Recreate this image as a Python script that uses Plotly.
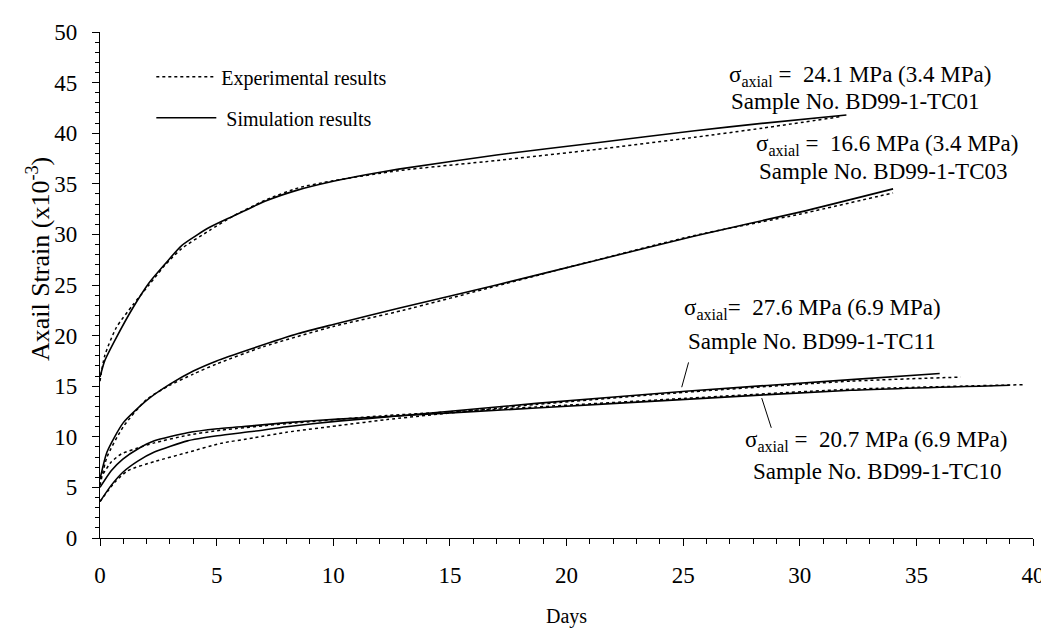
import plotly.graph_objects as go

# ---- data (days, axial strain x1e-3) ----
tc01_sim_x = [0, 0.2, 0.7, 1.4, 2.1, 2.8, 3.5, 4.7, 5.7, 7.1, 8.5, 10, 11.4, 12.8, 17, 21.3, 25.5, 28.5, 32]
tc01_sim_y = [15.9, 17.5, 19.8, 22.7, 25.2, 27.1, 28.9, 30.7, 31.8, 33.3, 34.4, 35.25, 35.9, 36.45, 37.85, 39.05, 40.25, 41.0, 41.8]
tc01_exp_x = [0, 0.2, 0.7, 1.4, 2.1, 2.8, 3.5, 4.7, 5.7, 7.1, 8.5, 10, 12.8, 17, 21.3, 25.5, 28.4, 31.8]
tc01_exp_y = [15.5, 18.0, 20.8, 23.0, 25.0, 27.0, 28.6, 30.4, 31.8, 33.4, 34.6, 35.3, 36.3, 37.3, 38.4, 39.6, 40.5, 41.65]

tc03_sim_x = [0, 0.3, 1.0, 2.0, 3.0, 4.0, 5.0, 6.5, 8.5, 10, 12.8, 17, 21.3, 25.5, 30, 34]
tc03_sim_y = [5.8, 8.5, 11.4, 13.6, 15.2, 16.5, 17.5, 18.7, 20.2, 21.1, 22.7, 25.0, 27.45, 29.85, 32.2, 34.5]
tc03_exp_x = [0, 0.3, 1.0, 2.0, 3.0, 4.0, 5.0, 7, 10, 13, 17, 21, 25.5, 30, 34]
tc03_exp_y = [5.2, 8.0, 11.0, 13.7, 15.1, 16.2, 17.2, 18.9, 20.9, 22.5, 24.9, 27.3, 29.9, 32.0, 34.1]

tc10_sim_x = [0, 0.48, 0.98, 1.62, 2.33, 3.75, 5.03, 6.6, 8.0, 10.2, 12.3, 18.7, 25.1, 32.2, 39.0]
tc10_sim_y = [5.0, 6.65, 7.8, 8.8, 9.6, 10.4, 10.8, 11.1, 11.4, 11.75, 12.0, 12.85, 13.7, 14.6, 15.1]
tc10_exp_x = [0, 0.48, 0.91, 1.62, 2.33, 3.75, 5.17, 8.0, 12.3, 18.7, 25.1, 32.2, 39.6]
tc10_exp_y = [5.85, 7.5, 8.3, 8.9, 9.4, 10.15, 10.65, 11.3, 12.1, 12.95, 13.8, 14.7, 15.15]

tc11_sim_x = [0, 0.48, 0.98, 1.62, 2.33, 3.75, 5.03, 6.6, 8.0, 10.2, 12.3, 18.7, 25.1, 32.2, 36.0]
tc11_sim_y = [3.6, 5.2, 6.5, 7.6, 8.5, 9.6, 10.1, 10.55, 11.0, 11.55, 11.95, 13.3, 14.5, 15.65, 16.25]
tc11_exp_x = [0, 0.63, 1.19, 2.33, 3.75, 5.17, 6.6, 8.0, 10.2, 12.3, 18.7, 25.1, 32.2, 36.9]
tc11_exp_y = [3.6, 5.5, 6.65, 7.55, 8.45, 9.35, 9.9, 10.45, 11.1, 11.7, 13.2, 14.4, 15.5, 15.9]

legend_labels = ["Experimental results", " Simulation results"]

FONT = "Liberation Serif, Times New Roman, serif"
DASH = "3px,3px"

fig = go.Figure()

series = [
    (tc01_exp_x, tc01_exp_y, "exp"), (tc01_sim_x, tc01_sim_y, "sim"),
    (tc03_exp_x, tc03_exp_y, "exp"), (tc03_sim_x, tc03_sim_y, "sim"),
    (tc10_exp_x, tc10_exp_y, "exp"), (tc10_sim_x, tc10_sim_y, "sim"),
    (tc11_exp_x, tc11_exp_y, "exp"), (tc11_sim_x, tc11_sim_y, "sim"),
]
shown = set()
for xs, ys, kind in series:
    is_exp = kind == "exp"
    fig.add_trace(go.Scatter(
        x=xs, y=ys, mode="lines",
        line=dict(color="black", width=1.5 if is_exp else 1.6,
                  dash=DASH if is_exp else "solid", shape="spline", smoothing=0.6),
        name=legend_labels[0] if is_exp else legend_labels[1],
        legendgroup=kind, showlegend=kind not in shown,
        legendrank=1 if is_exp else 2,
        hoverinfo="skip",
    ))
    shown.add(kind)

ann_font = dict(family=FONT, size=23, color="black")
texts = [
    ("σ<sub>axial</sub> =  24.1 MPa (3.4 MPa)", 32.58, 45.7),
    ("Sample No. BD99-1-TC01", 32.37, 43.18),
    ("σ<sub>axial</sub> =  16.6 MPa (3.4 MPa)", 33.73, 38.8),
    ("Sample No. BD99-1-TC03", 33.6, 36.26),
    ("σ<sub>axial</sub>=  27.6 MPa (6.9 MPa)", 30.55, 22.6),
    ("Sample No. BD99-1-TC11", 30.51, 19.4),
    ("σ<sub>axial</sub> =  20.7 MPa (6.9 MPa)", 33.26, 9.58),
    ("Sample No. BD99-1-TC10", 33.33, 6.56),
]
for t, x, y in texts:
    fig.add_annotation(text=t, x=x, y=y, xref="x", yref="y", showarrow=False,
                       xanchor="center", yanchor="middle", font=ann_font)

# pointer lines
for hx, hy, tx, ty in [(24.94, 14.9, 25.25, 17.5), (28.78, 10.89, 28.35, 13.97)]:
    fig.add_annotation(x=hx, y=hy, ax=tx, ay=ty, xref="x", yref="y", axref="x", ayref="y",
                       text="", showarrow=True, arrowhead=0, arrowwidth=1, arrowcolor="black")

# y-axis title (rotated text)
fig.add_annotation(text="Axail Strain (x10<sup>-3</sup>)", xref="paper", yref="y",
                   x=-0.066, y=27.6, textangle=-90, showarrow=False,
                   xanchor="center", yanchor="middle",
                   font=dict(family=FONT, size=26, color="black"))

axis_common = dict(
    showline=True, linecolor="black", linewidth=1.2,
    ticks="outside", ticklen=7, tickwidth=1.2, tickcolor="black",
    showgrid=False, zeroline=False,
    tickfont=dict(family=FONT, size=23, color="black"),
)
fig.update_xaxes(range=[0, 40], dtick=5, tick0=0,
                 minor=dict(dtick=1, ticks="outside", ticklen=5, tickcolor="black", tickwidth=1),
                 title=dict(text="Days", font=dict(family=FONT, size=20, color="black"), standoff=22),
                 ticklabelstandoff=9, **axis_common)
fig.update_yaxes(range=[0, 50], dtick=5, tick0=0,
                 minor=dict(dtick=1, ticks="outside", ticklen=4, tickcolor="black", tickwidth=1),
                 ticklabelstandoff=10, **axis_common)

fig.update_layout(
    width=1049, height=628,
    margin=dict(l=92, r=19, t=17, b=98),
    paper_bgcolor="white", plot_bgcolor="white",
    showlegend=True,
    legend=dict(x=0.055, y=0.95, xanchor="left", yanchor="top",
                font=dict(family=FONT, size=20, color="black"),
                bgcolor="rgba(0,0,0,0)", tracegroupgap=12, itemwidth=60),
    font=dict(family=FONT, color="black"),
)

fig.write_html("out.html")
